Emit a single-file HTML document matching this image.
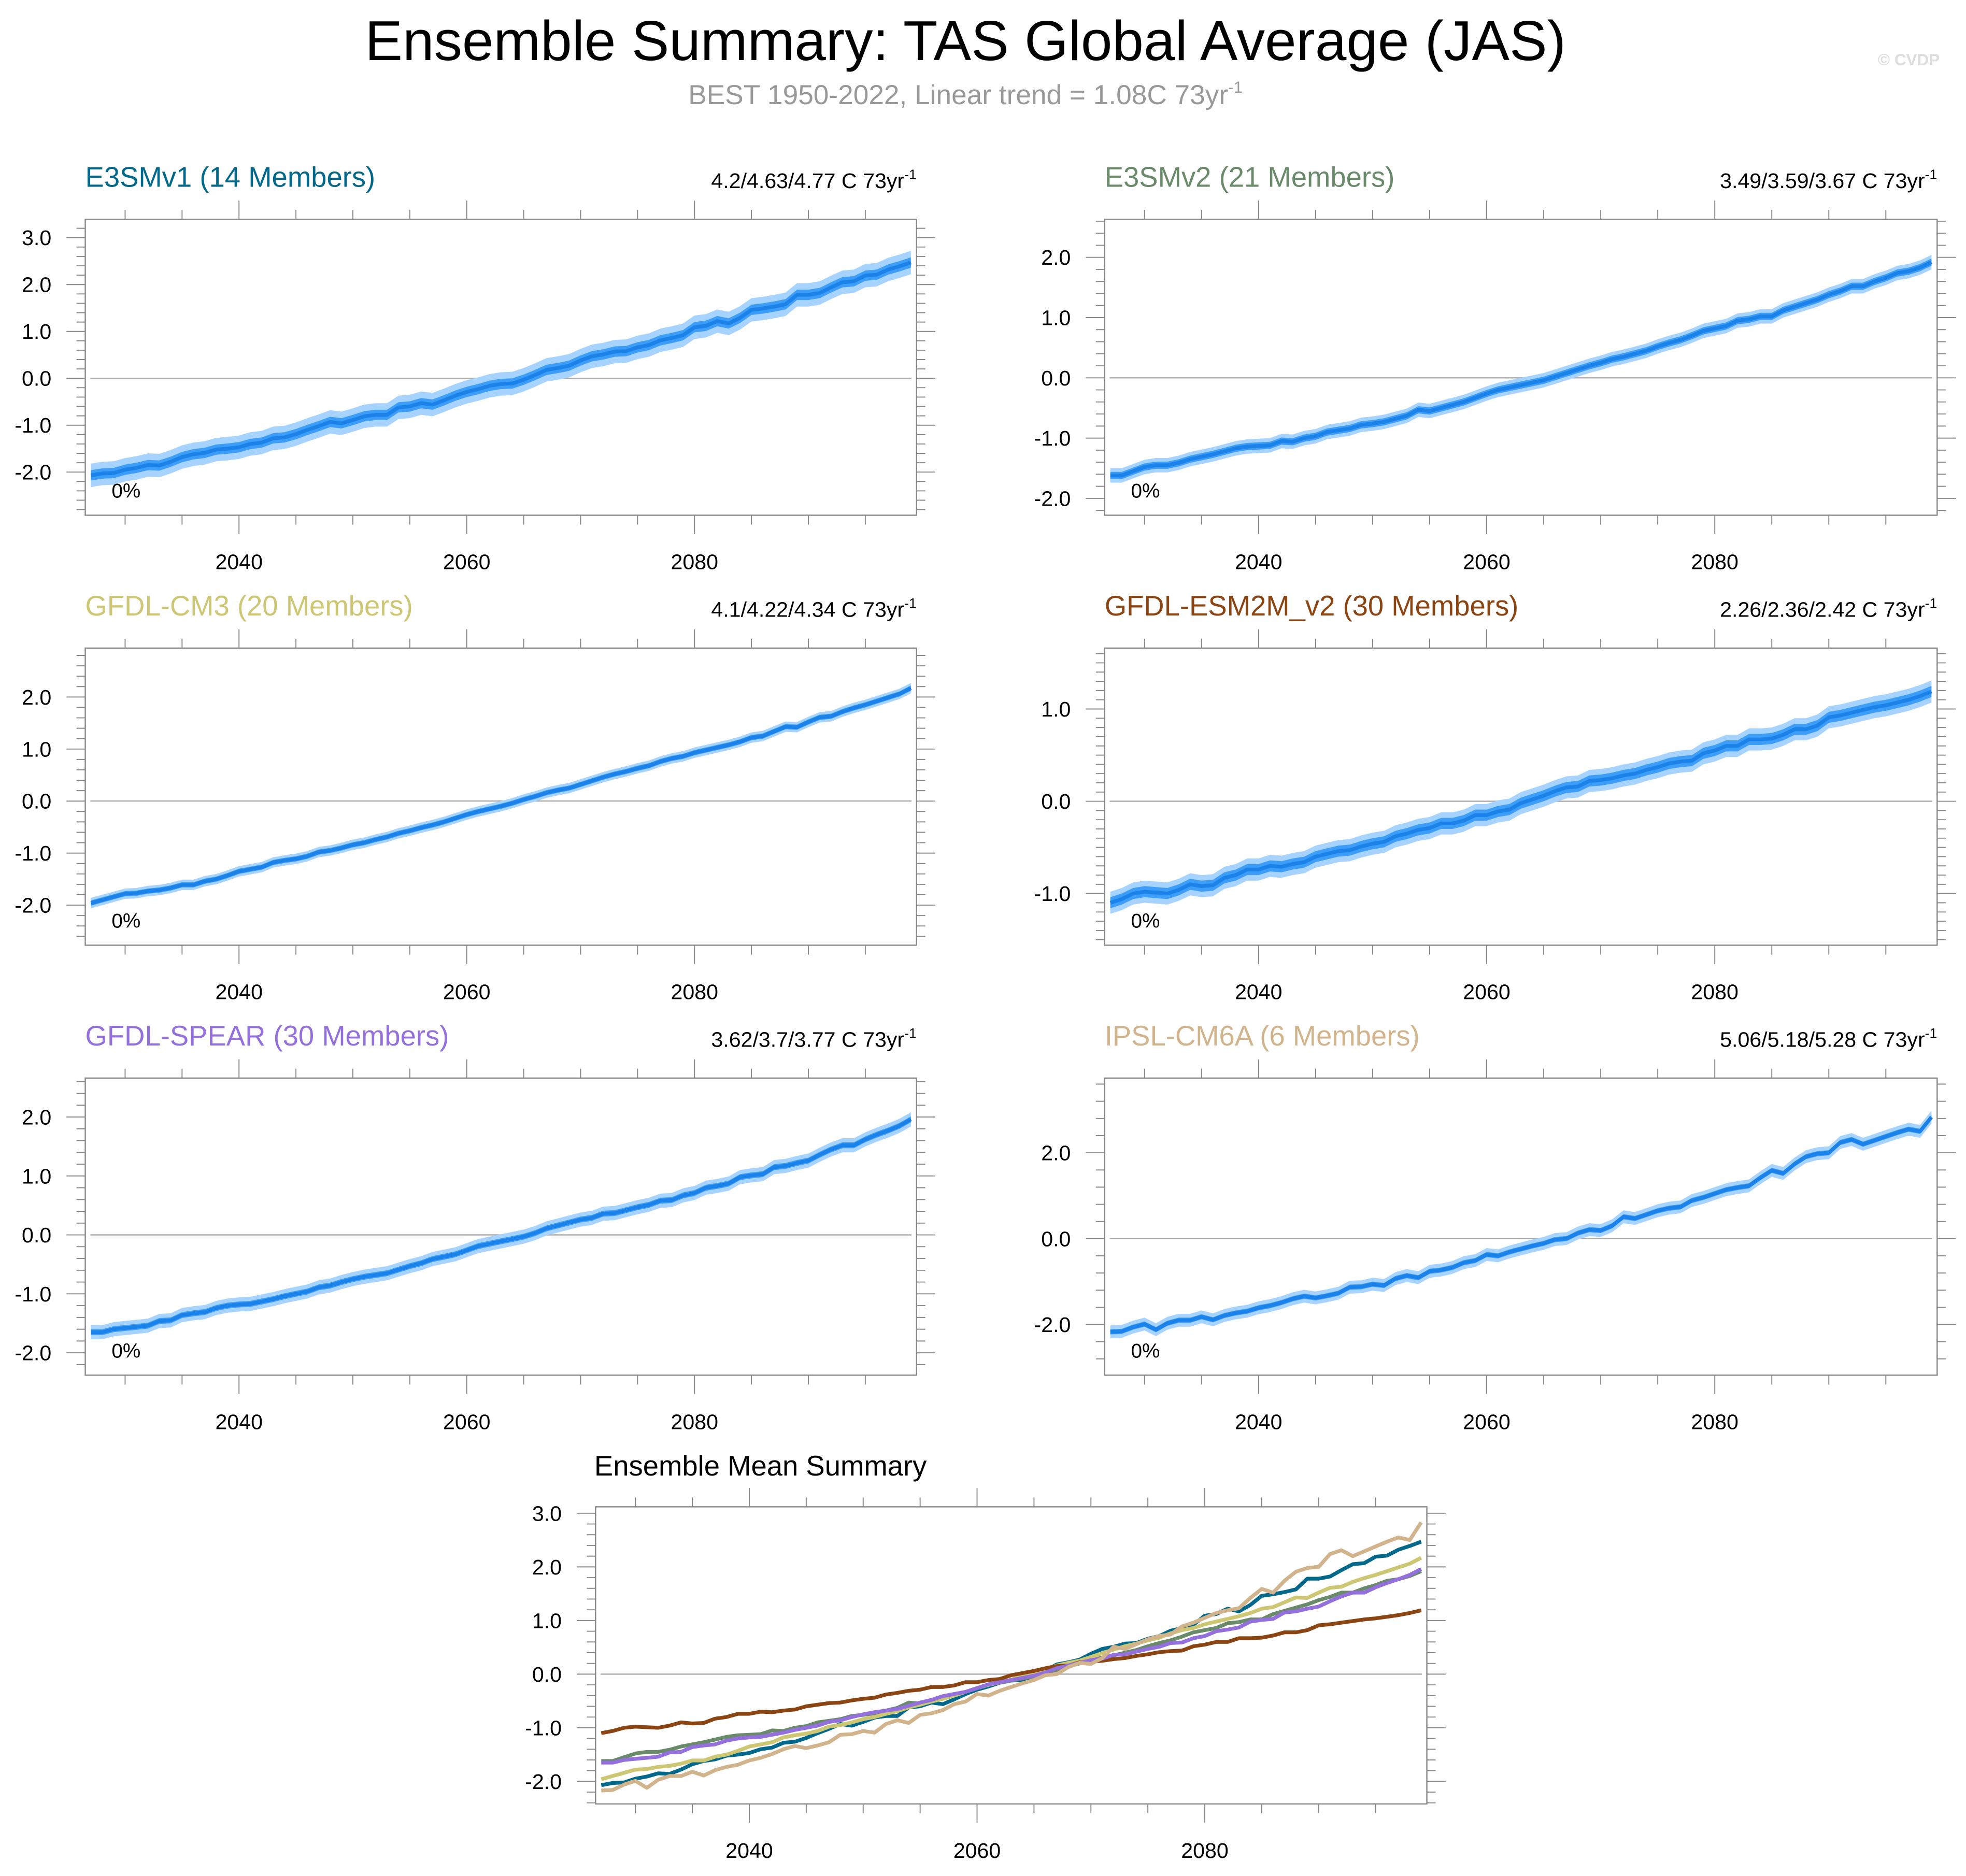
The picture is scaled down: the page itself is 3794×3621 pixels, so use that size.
<!DOCTYPE html>
<html><head><meta charset="utf-8"><style>
html,body{margin:0;padding:0;background:#fff;}
svg{display:block;font-family:"Liberation Sans",Arial,sans-serif;}
</style></head><body>
<svg id="chart" xmlns="http://www.w3.org/2000/svg" width="3794" height="3621" viewBox="0 0 1568 1496.5">
<rect x="0" y="0" width="1568" height="1496.5" fill="#fff"/>
<text x="770" y="48" font-size="45" text-anchor="middle" fill="#000">Ensemble Summary: TAS Global Average (JAS)</text>
<text x="770" y="83" font-size="22" text-anchor="middle" fill="#999">BEST 1950-2022, Linear trend = 1.08C 73yr<tspan font-size="13" dy="-9">-1</tspan></text>
<text x="1547" y="52" font-size="13" font-weight="bold" text-anchor="end" fill="#ddd">© CVDP</text>
<g id="plots"></g>
</svg>
<script>
const startYear = 2027;
const e3smv1 = [-2.07,-2.03,-2.02,-1.95,-1.91,-1.85,-1.86,-1.78,-1.68,-1.62,-1.59,-1.52,-1.50,-1.47,-1.40,-1.37,-1.28,-1.26,-1.19,-1.10,-1.02,-0.93,-0.96,-0.89,-0.81,-0.78,-0.78,-0.62,-0.60,-0.53,-0.56,-0.47,-0.37,-0.29,-0.23,-0.16,-0.12,-0.11,-0.03,0.07,0.18,0.22,0.27,0.38,0.47,0.51,0.57,0.58,0.66,0.71,0.81,0.86,0.92,1.09,1.12,1.22,1.17,1.29,1.46,1.49,1.53,1.58,1.78,1.78,1.82,1.94,2.05,2.07,2.19,2.21,2.32,2.39,2.47];
const e3smv2 = [-1.62,-1.62,-1.55,-1.48,-1.45,-1.45,-1.41,-1.35,-1.31,-1.27,-1.22,-1.17,-1.14,-1.13,-1.12,-1.05,-1.06,-1.00,-0.97,-0.90,-0.87,-0.84,-0.78,-0.76,-0.73,-0.68,-0.63,-0.53,-0.55,-0.50,-0.45,-0.40,-0.33,-0.26,-0.20,-0.16,-0.12,-0.08,-0.04,0.02,0.08,0.14,0.20,0.25,0.31,0.35,0.40,0.45,0.52,0.58,0.63,0.70,0.78,0.82,0.86,0.95,0.97,1.02,1.02,1.12,1.18,1.24,1.30,1.38,1.44,1.52,1.52,1.60,1.66,1.74,1.77,1.83,1.92];
const gfdlCm3 = [-1.96,-1.90,-1.84,-1.78,-1.77,-1.73,-1.71,-1.67,-1.61,-1.61,-1.54,-1.50,-1.43,-1.35,-1.31,-1.27,-1.18,-1.14,-1.11,-1.06,-0.98,-0.95,-0.90,-0.84,-0.80,-0.74,-0.69,-0.62,-0.57,-0.51,-0.46,-0.40,-0.33,-0.26,-0.20,-0.15,-0.10,-0.04,0.03,0.09,0.16,0.21,0.25,0.32,0.39,0.46,0.52,0.57,0.63,0.68,0.76,0.82,0.86,0.93,0.98,1.03,1.08,1.14,1.22,1.25,1.34,1.43,1.42,1.52,1.61,1.63,1.72,1.79,1.85,1.92,1.99,2.06,2.17];
const gfdlEsm2m = [-1.10,-1.06,-1.00,-0.98,-0.99,-1.00,-0.96,-0.90,-0.92,-0.91,-0.83,-0.80,-0.74,-0.74,-0.70,-0.71,-0.68,-0.66,-0.60,-0.57,-0.54,-0.53,-0.49,-0.46,-0.44,-0.38,-0.35,-0.31,-0.29,-0.24,-0.24,-0.21,-0.15,-0.15,-0.11,-0.09,-0.02,0.02,0.06,0.11,0.15,0.16,0.22,0.23,0.25,0.28,0.30,0.34,0.37,0.41,0.43,0.44,0.52,0.55,0.60,0.60,0.67,0.67,0.68,0.72,0.78,0.78,0.82,0.91,0.93,0.96,0.99,1.02,1.04,1.07,1.10,1.14,1.19];
const gfdlSpear = [-1.65,-1.65,-1.60,-1.58,-1.56,-1.54,-1.46,-1.45,-1.36,-1.33,-1.31,-1.24,-1.20,-1.18,-1.17,-1.13,-1.09,-1.04,-1.00,-0.96,-0.89,-0.86,-0.80,-0.75,-0.71,-0.68,-0.65,-0.59,-0.53,-0.48,-0.41,-0.37,-0.33,-0.26,-0.19,-0.15,-0.11,-0.07,-0.03,0.03,0.11,0.16,0.21,0.26,0.29,0.36,0.37,0.42,0.47,0.51,0.58,0.59,0.67,0.71,0.80,0.83,0.87,0.98,1.01,1.03,1.15,1.17,1.22,1.26,1.36,1.45,1.52,1.52,1.62,1.70,1.77,1.85,1.96];
const ipslCm6a = [-2.17,-2.16,-2.06,-1.99,-2.12,-1.97,-1.90,-1.90,-1.82,-1.89,-1.79,-1.73,-1.69,-1.61,-1.56,-1.49,-1.40,-1.34,-1.38,-1.33,-1.27,-1.13,-1.12,-1.06,-1.09,-0.93,-0.86,-0.91,-0.76,-0.73,-0.67,-0.56,-0.51,-0.37,-0.40,-0.31,-0.24,-0.17,-0.11,-0.02,0.00,0.13,0.21,0.19,0.30,0.51,0.47,0.56,0.65,0.71,0.74,0.89,0.96,1.05,1.14,1.19,1.23,1.42,1.59,1.52,1.74,1.91,1.98,2.00,2.24,2.31,2.20,2.29,2.38,2.47,2.55,2.50,2.83];
const modelNames = ["E3SMv1 (14 Members)","E3SMv2 (21 Members)","GFDL-CM3 (20 Members)","GFDL-ESM2M_v2 (30 Members)","GFDL-SPEAR (30 Members)","IPSL-CM6A (6 Members)"];
const trendLabels = ["4.2/4.63/4.77 C 73yr","3.49/3.59/3.67 C 73yr","4.1/4.22/4.34 C 73yr","2.26/2.36/2.42 C 73yr","3.62/3.7/3.77 C 73yr","5.06/5.18/5.28 C 73yr"];
const outerSpread = [0.25,0.12,0.1,0.12,0.12,0.15];
const innerSpread = [0.11,0.06,0.05,0.06,0.05,0.06];
const xTickLabels = [2040,2060,2080];

const series = [e3smv1,e3smv2,gfdlCm3,gfdlEsm2m,gfdlSpear,ipslCm6a];
const colors = ["#00688b","#698b69","#cdc673","#8b4513","#9370db","#d2b48c"];
const layout = [
 {x0:68,x1:731,y0:175,y1:411,ymin:-2.92,ymax:3.39,ticks:[-2,-1,0,1,2,3],minor:0.2},
 {x0:881,x1:1545,y0:175,y1:411,ymin:-2.28,ymax:2.63,ticks:[-2,-1,0,1,2],minor:0.2},
 {x0:68,x1:731,y0:517,y1:754,ymin:-2.77,ymax:2.94,ticks:[-2,-1,0,1,2],minor:0.2},
 {x0:881,x1:1545,y0:517,y1:754,ymin:-1.56,ymax:1.66,ticks:[-1,0,1],minor:0.1},
 {x0:68,x1:731,y0:860,y1:1097,ymin:-2.38,ymax:2.66,ticks:[-2,-1,0,1,2],minor:0.2},
 {x0:881,x1:1545,y0:860,y1:1097,ymin:-3.18,ymax:3.74,ticks:[-2,0,2],minor:0.4}
];
const NS="http://www.w3.org/2000/svg";
const root=document.getElementById('plots');
function mk(tag,attrs,parent){const e=document.createElementNS(NS,tag);for(const k in attrs)e.setAttribute(k,attrs[k]);(parent||root).appendChild(e);return e;}
const XMIN=2026.5, XMAX=2099.5;

function axes(g,L,xs,ys){
 mk('rect',{x:L.x0,y:L.y0,width:L.x1-L.x0,height:L.y1-L.y0,fill:'none',stroke:'#888','stroke-width':1},g);
 for(let yr=2030;yr<=2095;yr+=5){
  const maj=(yr%20===0);const x=xs(yr);const len=maj?15:7.5;
  mk('line',{x1:x,x2:x,y1:L.y0,y2:L.y0-len,stroke:'#888','stroke-width':0.8},g);
  mk('line',{x1:x,x2:x,y1:L.y1,y2:L.y1+len,stroke:'#888','stroke-width':0.8},g);
 }
 xTickLabels.forEach(v=>{const t=mk('text',{x:xs(v),y:L.y1+43,'font-size':17,'text-anchor':'middle',fill:'#000'},g);t.textContent=v;
  
  });
 const start=Math.ceil(L.ymin/L.minor-1e-6);
 for(let k=start;k*L.minor<=L.ymax+1e-6;k++){
  const v=k*L.minor;const maj=L.ticks.some(t=>Math.abs(t-v)<1e-6);const y=ys(v);const len=maj?15:7;
  mk('line',{x1:L.x0,x2:L.x0-len,y1:y,y2:y,stroke:'#888','stroke-width':0.8},g);
  mk('line',{x1:L.x1,x2:L.x1+len,y1:y,y2:y,stroke:'#888','stroke-width':0.8},g);
 }
 L.ticks.forEach(v=>{const t=mk('text',{x:L.x0-27,y:ys(v)+6,'font-size':17,'text-anchor':'end',fill:'#000'},g);t.textContent=v.toFixed(1);
  
  });
 mk('line',{x1:L.x0+4,x2:L.x1-4,y1:ys(0),y2:ys(0),stroke:'#aaa','stroke-width':1},g);
}
function band(g,data,xs,ys,sp,fill){
 let d='';data.forEach((v,i)=>{d+=(i?'L':'M')+xs(startYear+i)+','+ys(v+sp);});
 for(let i=data.length-1;i>=0;i--)d+='L'+xs(startYear+i)+','+ys(data[i]-sp);
 return mk('path',{d:d+'Z',fill:fill,stroke:'none'},g);
}
function line(g,data,xs,ys,color,w){
 const d=data.map((v,i)=>(i?'L':'M')+xs(startYear+i)+','+ys(v)).join('');
 return mk('path',{d:d,fill:'none',stroke:color,'stroke-width':w,'stroke-linejoin':'round'},g);
}
layout.forEach((L,m)=>{
 const g=mk('g',{});
 
 
 const xs=yr=>L.x0+(yr-XMIN)/(XMAX-XMIN)*(L.x1-L.x0);
 const ys=v=>L.y1-(v-L.ymin)/(L.ymax-L.ymin)*(L.y1-L.y0);
 axes(g,L,xs,ys);
 const b1=band(g,series[m],xs,ys,outerSpread[m],'#a6d3ff');
 
 
 const b2=band(g,series[m],xs,ys,innerSpread[m],'#3d9ef9');
 
 
 const ln=line(g,series[m],xs,ys,'#1a82e8',3);
 
 
 const t=mk('text',{x:L.x0,y:L.y0-26,'font-size':22.5,fill:colors[m]},g);t.textContent=modelNames[m];
 
 
 const r=mk('text',{x:L.x1,y:L.y0-25,'font-size':17,'text-anchor':'end',fill:'#000'},g);
 r.innerHTML=trendLabels[m]+'<tspan font-size="11" dy="-7">-1</tspan>';
 
 
 const p=mk('text',{x:L.x0+21,y:L.y1-14,'font-size':16,fill:'#000'},g);p.textContent='0%';
 
 
});
// summary panel
(function(){
 const L={x0:475,x1:1138,y0:1202,y1:1439,ymin:-2.42,ymax:3.12,ticks:[-2,-1,0,1,2,3],minor:0.2};
 const g=mk('g',{});
 
 
 const xs=yr=>L.x0+(yr-XMIN)/(XMAX-XMIN)*(L.x1-L.x0);
 const ys=v=>L.y1-(v-L.ymin)/(L.ymax-L.ymin)*(L.y1-L.y0);
 axes(g,L,xs,ys);
 series.forEach((s,m)=>{const ln=line(g,s,xs,ys,colors[m],3);
  
  });
 const t=mk('text',{x:474,y:1177,'font-size':22.5,fill:'#000'},g);t.textContent='Ensemble Mean Summary';
 
 
})();
</script>
</body></html>
